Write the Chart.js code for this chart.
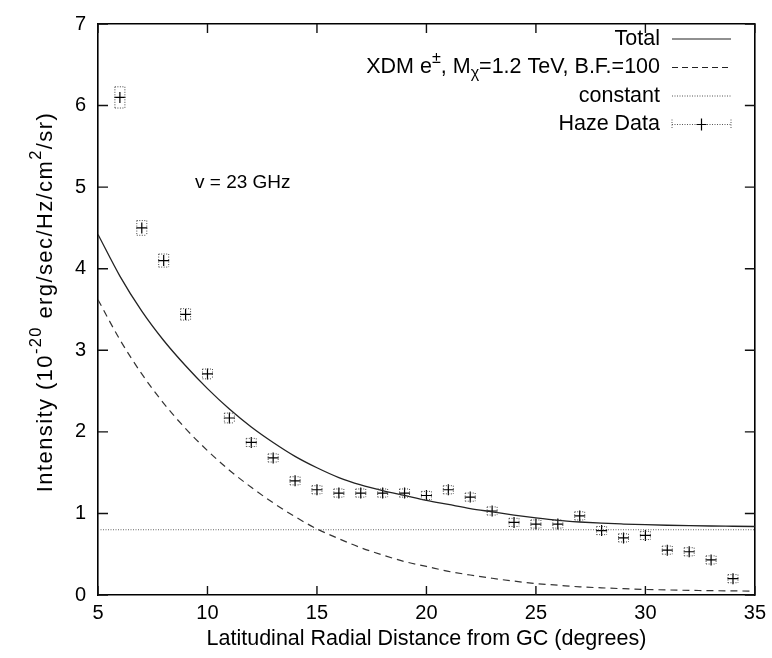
<!DOCTYPE html>
<html>
<head>
<meta charset="utf-8">
<script src="https://cdn.jsdelivr.net/npm/chart.js@4"></script>
<style>
  html, body { margin: 0; padding: 0; background: #fff; }
  #wrap { width: 772px; height: 658px; }
</style>
</head>
<body>
<div id="wrap"><canvas id="myChart" width="772" height="658"></canvas></div>
<script>
// model curves, sampled every degree
const modelX = [5, 6, 7, 8, 9, 10, 11, 12, 13, 14, 15, 16, 17, 18, 19, 20, 21, 22, 23, 24, 25, 26, 27, 28, 29, 30, 31, 32, 33, 34, 35]
const totalY = [4.42, 3.91, 3.48, 3.12, 2.81, 2.53, 2.28, 2.06, 1.87, 1.70, 1.56, 1.44, 1.35, 1.28, 1.22, 1.16, 1.11, 1.06, 1.02, 0.98, 0.945, 0.915, 0.895, 0.88, 0.87, 0.862, 0.855, 0.85, 0.846, 0.843, 0.84]
const xdmY = [3.62, 3.13, 2.71, 2.35, 2.04, 1.77, 1.53, 1.32, 1.13, 0.96, 0.81, 0.69, 0.58, 0.49, 0.41, 0.35, 0.29, 0.245, 0.205, 0.17, 0.14, 0.12, 0.10, 0.088, 0.077, 0.068, 0.062, 0.057, 0.053, 0.05, 0.048]
const constX = [5, 35]
const constY = [0.8, 0.8]

// haze data with errors
const hazeX = [6, 7, 8, 9, 10, 11, 12, 13, 14, 15, 16, 17, 18, 19, 20, 21, 22, 23, 24, 25, 26, 27, 28, 29, 30, 31, 32, 33, 34]
const hazeY = [6.10, 4.50, 4.10, 3.44, 2.71, 2.17, 1.87, 1.68, 1.40, 1.29, 1.25, 1.25, 1.25, 1.25, 1.22, 1.29, 1.20, 1.03, 0.89, 0.87, 0.87, 0.97, 0.79, 0.70, 0.73, 0.55, 0.53, 0.43, 0.20]
const hazeErr = [0.13, 0.09, 0.08, 0.07, 0.06, 0.06, 0.05, 0.05, 0.05, 0.05, 0.05, 0.05, 0.05, 0.05, 0.05, 0.05, 0.05, 0.05, 0.05, 0.05, 0.05, 0.05, 0.05, 0.05, 0.05, 0.05, 0.05, 0.05, 0.05]

const xTicks = [5, 10, 15, 20, 25, 30, 35]
const yTicks = [0, 1, 2, 3, 4, 5, 6, 7]

const FONT = '"Liberation Sans", Arial, Helvetica, sans-serif'

const pts = (xa, ya) => xa.map((x, i) => ({ x: x, y: ya[i] }))

// draws a run of text pieces; sup/sub shift and shrink
function drawPieces(ctx, pieces, x, y, size) {
  let cx = x
  pieces.forEach(p => {
    const s = p.sup || p.sub ? size * 0.75 : size
    ctx.font = s + 'px ' + FONT
    let dy = 0
    if (p.sup) dy = -size * 0.42
    if (p.sub) dy = size * 0.3
    ctx.fillText(p.t, cx, y + dy)
    cx += ctx.measureText(p.t).width
  })
  return cx - x
}
function widthPieces(ctx, pieces, size) {
  let w = 0
  pieces.forEach(p => {
    const s = p.sup || p.sub ? size * 0.75 : size
    ctx.font = s + 'px ' + FONT
    w += ctx.measureText(p.t).width
  })
  return w
}

const extras = {
  id: 'extras',
  afterDatasetsDraw(chart) {
    const ctx = chart.ctx
    const xs = chart.scales.x, ys = chart.scales.y
    ctx.save()
    // error bars, dotted
    ctx.strokeStyle = '#444'
    ctx.lineWidth = 1
    ctx.setLineDash([1, 1.5])
    hazeX.forEach((x, i) => {
      const px = xs.getPixelForValue(x)
      const top = ys.getPixelForValue(hazeY[i] + hazeErr[i])
      const bot = ys.getPixelForValue(hazeY[i] - hazeErr[i])
      ctx.beginPath()
      ctx.moveTo(px - 5, top); ctx.lineTo(px + 5, top)
      ctx.moveTo(px - 5, bot); ctx.lineTo(px + 5, bot)
      ctx.moveTo(px - 5, top); ctx.lineTo(px - 5, bot)
      ctx.moveTo(px + 5, top); ctx.lineTo(px + 5, bot)
      ctx.stroke()
    })

    // inward ticks on all four sides
    const L = xs.getPixelForValue(5), R = xs.getPixelForValue(35)
    const T = ys.getPixelForValue(7), B = ys.getPixelForValue(0)
    ctx.setLineDash([])
    ctx.strokeStyle = '#111'
    ctx.lineWidth = 1.4
    xTicks.forEach(v => {
      const px = xs.getPixelForValue(v)
      ctx.beginPath()
      ctx.moveTo(px, B); ctx.lineTo(px, B - 9)
      ctx.moveTo(px, T); ctx.lineTo(px, T + 9)
      ctx.stroke()
    })
    yTicks.forEach(v => {
      const py = ys.getPixelForValue(v)
      ctx.beginPath()
      ctx.moveTo(L, py); ctx.lineTo(L + 10, py)
      ctx.moveTo(R, py); ctx.lineTo(R - 10, py)
      ctx.stroke()
    })
    ctx.restore()
  },
  afterDraw(chart) {
    const ctx = chart.ctx
    const xs = chart.scales.x
    const L = xs.getPixelForValue(5), R = xs.getPixelForValue(35)
    ctx.save()
    ctx.setLineDash([])

    // legend, text right aligned, sample on the right
    const size = 21.5
    const textRight = 660
    const lx0 = 672, lx1 = 731
    const rows = [
      { pieces: [{ t: 'Total' }], style: 'solid' },
      { pieces: [{ t: 'XDM e' }, { t: '±', sup: true }, { t: ', M' }, { t: 'χ', sub: true }, { t: '=1.2 TeV, B.F.=100' }], style: 'dash' },
      { pieces: [{ t: 'constant' }], style: 'dot' },
      { pieces: [{ t: 'Haze Data' }], style: 'haze' }
    ]
    ctx.fillStyle = '#000'
    ctx.textBaseline = 'middle'
    ctx.textAlign = 'left'
    rows.forEach((r, i) => {
      const y = 39 + i * 28.5
      const w = widthPieces(ctx, r.pieces, size)
      drawPieces(ctx, r.pieces, textRight - w, y, size)
      ctx.lineWidth = 1.2
      ctx.strokeStyle = '#222'
      if (r.style === 'dash') ctx.setLineDash([6, 4])
      else if (r.style === 'dot' || r.style === 'haze') { ctx.setLineDash([1, 1.5]); ctx.strokeStyle = '#555'; ctx.lineWidth = 1 }
      else ctx.setLineDash([])
      ctx.beginPath()
      ctx.moveTo(lx0, y); ctx.lineTo(lx1, y)
      if (r.style === 'haze') {
        ctx.moveTo(lx0, y - 5); ctx.lineTo(lx0, y + 5)
        ctx.moveTo(lx1, y - 5); ctx.lineTo(lx1, y + 5)
      }
      ctx.stroke()
      ctx.setLineDash([])
      if (r.style === 'haze') {
        const mx = (lx0 + lx1) / 2
        ctx.strokeStyle = '#000'
        ctx.lineWidth = 1.2
        ctx.beginPath()
        ctx.moveTo(mx - 5, y); ctx.lineTo(mx + 5, y)
        ctx.moveTo(mx, y - 6); ctx.lineTo(mx, y + 6)
        ctx.stroke()
      }
    })

    // annotation
    ctx.font = '19px ' + FONT
    ctx.fillText('v = 23 GHz', 195, 183)

    // axis titles
    ctx.textAlign = 'center'
    ctx.font = '21.5px ' + FONT
    ctx.fillText('Latitudinal Radial Distance from GC (degrees)', (L + R) / 2, 639)

    const yPieces = [{ t: 'Intensity (10' }, { t: '-20', sup: true }, { t: ' erg/sec/Hz/cm' }, { t: '2', sup: true }, { t: '/sr)' }]
    ctx.textAlign = 'left'
    ctx.letterSpacing = '1.4px'
    ctx.translate(46, 302)
    ctx.rotate(-Math.PI / 2)
    const yw = widthPieces(ctx, yPieces, 22)
    drawPieces(ctx, yPieces, -yw / 2, 0, 22)
    ctx.restore()
  }
}

const frameBorder = { display: true, color: '#000', width: 1.6 }

const ctx = document.getElementById('myChart')

new Chart(ctx, {
  type: 'line',
  data: {
    datasets: [
      {
        label: 'Total',
        data: pts(modelX, totalY),
        borderColor: '#222',
        borderWidth: 1.3,
        pointRadius: 0,
        cubicInterpolationMode: 'monotone'
      },
      {
        label: 'XDM',
        data: pts(modelX, xdmY),
        borderColor: '#333',
        borderWidth: 1.2,
        borderDash: [7, 5],
        pointRadius: 0,
        cubicInterpolationMode: 'monotone'
      },
      {
        label: 'constant',
        data: pts(constX, constY),
        borderColor: '#666',
        borderWidth: 1,
        borderDash: [1, 1.5],
        pointRadius: 0
      },
      {
        label: 'Haze Data',
        data: pts(hazeX, hazeY),
        showLine: false,
        pointStyle: 'cross',
        pointRadius: 5.5,
        borderColor: '#000',
        borderWidth: 1.2,
        backgroundColor: '#000'
      }
    ]
  },
  options: {
    responsive: false,
    animation: false,
    events: [],
    layout: { padding: { left: 10, top: 13, right: 16, bottom: 0 } },
    plugins: {
      legend: { display: false },
      tooltip: { enabled: false }
    },
    scales: {
      x: {
        type: 'linear',
        min: 5,
        max: 35,
        grid: { display: false, drawTicks: false },
        border: frameBorder,
        ticks: {
          stepSize: 5,
          padding: 6,
          color: '#000',
          font: { family: FONT, size: 20 }
        },
        afterFit(scale) { scale.height = 63 }
      },
      x2: {
        type: 'linear',
        position: 'top',
        min: 5,
        max: 35,
        grid: { display: false, drawTicks: false },
        border: frameBorder,
        ticks: { display: false },
        afterFit(scale) { scale.height = 0 }
      },
      y: {
        min: 0,
        max: 7,
        grid: { display: false, drawTicks: false },
        border: frameBorder,
        ticks: {
          stepSize: 1,
          padding: 12,
          color: '#000',
          font: { family: FONT, size: 20 }
        },
        afterFit(scale) { scale.width = 88 }
      },
      y2: {
        position: 'right',
        min: 0,
        max: 7,
        grid: { display: false, drawTicks: false },
        border: frameBorder,
        ticks: { display: false },
        afterFit(scale) { scale.width = 0 }
      }
    }
  },
  plugins: [extras]
})
</script>
</body>
</html>
